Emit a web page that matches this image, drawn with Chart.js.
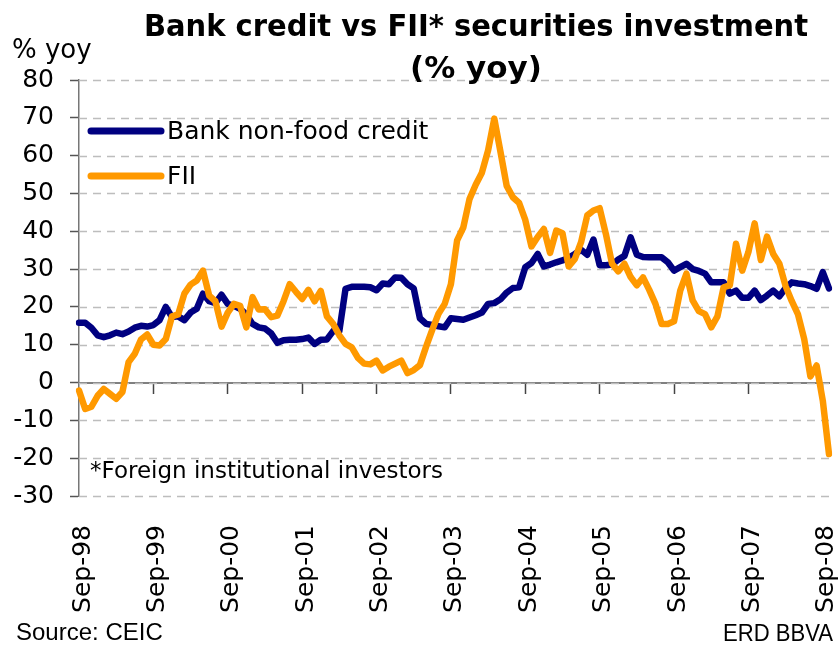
<!DOCTYPE html>
<html>
<head>
<meta charset="utf-8">
<title>Bank credit vs FII securities investment</title>
<script src="https://cdn.jsdelivr.net/npm/chart.js@4.4.1/dist/chart.umd.min.js"></script>
<style>
  html, body { margin: 0; padding: 0; background: #fff; }
  #wrap { width: 840px; height: 645px; }
</style>
</head>
<body>
<div id="wrap"><canvas id="credit_fii" width="840" height="645"></canvas></div>
<script>
// % yoy, monthly from Sep-98 to Oct-08
const bankCredit = [
  15.8, 15.8, 14.5, 12.5, 12.0, 12.5, 13.2, 12.8, 13.5, 14.5, 15.0, 14.8,
  15.2, 16.5, 20.0, 17.3, 17.5, 16.5, 18.5, 19.5, 23.5, 21.5, 21.0, 23.2,
  20.8, 20.3, 19.5, 18.0, 15.5, 14.6, 14.3, 13.0, 10.5, 11.2, 11.3, 11.3,
  11.5, 11.9, 10.2, 11.3, 11.4, 13.6, 13.6, 24.8, 25.3, 25.3, 25.3, 25.2,
  24.4, 26.2, 26.0, 27.8, 27.7, 26.0, 24.9, 17.0, 15.5, 15.2, 14.9, 14.6,
  17.0, 16.8, 16.6, 17.2, 17.8, 18.5, 20.8, 21.0, 22.0, 23.8, 25.0, 25.2,
  30.5, 31.6, 34.0, 30.7, 31.2, 31.8, 32.3, 33.0, 34.0, 35.1, 33.8, 37.8,
  31.0, 31.0, 31.2, 32.5, 33.5, 38.4, 33.8, 33.2, 33.1, 33.1, 33.1, 31.8,
  29.6, 30.5, 31.4, 30.0, 29.5, 28.8, 26.5, 26.5, 26.5, 23.5, 24.3, 22.4,
  22.4, 24.3, 21.8, 23.0, 24.3, 22.8, 25.0, 26.5, 26.2, 26.0, 25.5, 24.8,
  29.2, 24.9
];
const fiiInvestment = [
  -2.1, -7.0, -6.4, -3.5, -1.7, -3.0, -4.3, -2.5, 5.4, 7.6, 11.4, 12.7,
  10.0, 9.8, 11.5, 17.5, 18.0, 23.5, 25.9, 27.0, 29.6, 23.0, 21.5, 14.8,
  18.5, 20.8, 20.3, 14.6, 22.6, 19.3, 19.4, 17.3, 17.7, 21.5, 26.0, 24.0,
  22.1, 24.5, 21.5, 24.2, 17.5, 15.5, 12.5, 10.2, 9.3, 6.5, 5.0, 4.8,
  5.8, 3.2, 4.2, 5.0, 5.8, 2.5, 3.3, 4.6, 9.5, 14.0, 18.2, 20.8,
  26.0, 37.6, 41.0, 48.5, 52.3, 55.5, 61.4, 69.8, 61.0, 52.0, 49.0, 47.5,
  43.0, 36.0, 38.5, 40.6, 34.3, 40.2, 39.5, 30.7, 32.7, 37.1, 44.2, 45.5,
  46.1, 39.3, 31.4, 29.4, 31.4, 27.9, 25.7, 27.8, 24.5, 20.8, 15.5, 15.5,
  16.2, 24.3, 28.8, 21.7, 18.9, 18.1, 14.6, 17.5, 25.2, 25.7, 36.7, 29.6,
  34.5, 42.1, 32.4, 38.6, 34.0, 31.4, 25.5, 21.5, 18.0, 11.5, 1.6, 4.5,
  -4.8, -18.9
];
const seriesNames = ['Bank non-food credit', 'FII'];
const seriesColors = ['#000080', '#ff9900'];
const monthNames = ['Jan', 'Feb', 'Mar', 'Apr', 'May', 'Jun', 'Jul', 'Aug', 'Sep', 'Oct', 'Nov', 'Dec'];
const yTicks = { min: -30, max: 80, step: 10 };

// month labels Sep-98 .. Oct-08
const months = [];
for (let i = 0; i < bankCredit.length; i++) {
  const m = (8 + i) % 12;
  const yr = (1998 + Math.floor((8 + i) / 12)) % 100;
  months.push(monthNames[m] + '-' + String(yr).padStart(2, '0'));
}

const FONT = '"DejaVu Sans", Verdana, sans-serif';
const ARIAL = '"Liberation Sans", Arial, sans-serif';

// fits a single line of text to a given width by squeezing it horizontally
function fitText(ctx, text, x, y, maxW) {
  const w = ctx.measureText(text).width;
  const sx = w > maxW ? maxW / w : 1;
  ctx.save();
  ctx.translate(x, y);
  ctx.scale(sx, 1);
  ctx.fillText(text, 0, 0);
  ctx.restore();
}

// dashed horizontal grid, one line per y tick
const dashedGrid = {
  id: 'dashedGrid',
  beforeDatasetsDraw(chart) {
    const { ctx, chartArea, scales } = chart;
    ctx.save();
    ctx.strokeStyle = '#bdbdbd';
    ctx.lineWidth = 1.5;
    ctx.setLineDash([8, 6]);
    scales.y.ticks.forEach(t => {
      const y = Math.round(scales.y.getPixelForValue(t.value)) + 0.5;
      ctx.beginPath();
      ctx.moveTo(chartArea.left, y);
      ctx.lineTo(chartArea.right + 4, y);
      ctx.stroke();
    });
    ctx.restore();
  }
};

const annotations = {
  id: 'annotations',
  afterDraw(chart) {
    const { ctx, chartArea } = chart;
    ctx.save();
    ctx.fillStyle = '#000';

    // title
    ctx.font = 'bold 31px ' + FONT;
    ctx.textAlign = 'center';
    ctx.textBaseline = 'alphabetic';
    fitText(ctx, 'Bank credit vs FII* securities investment', 476, 36, 664);
    fitText(ctx, '(% yoy)', 476, 78, 140);

    // axis unit
    ctx.font = '26px ' + FONT;
    ctx.textAlign = 'left';
    ctx.fillText('% yoy', 12, 58);

    // legend inside the plot
    chart.data.datasets.forEach((ds, i) => {
      const y = chartArea.top + 51 + i * 45;
      ctx.strokeStyle = ds.borderColor;
      ctx.lineWidth = 7;
      ctx.lineCap = 'round';
      ctx.beginPath();
      ctx.moveTo(chartArea.left + 12, y);
      ctx.lineTo(chartArea.left + 82, y);
      ctx.stroke();
      ctx.font = '25px ' + FONT;
      ctx.textBaseline = 'middle';
      ctx.fillText(ds.label, chartArea.left + 88, y + 1);
    });

    // footnote
    ctx.textBaseline = 'alphabetic';
    ctx.font = '23px ' + FONT;
    ctx.fillText('*Foreign institutional investors', chartArea.left + 11, 478);

    // source lines
    ctx.font = '24px ' + ARIAL;
    fitText(ctx, 'Source: CEIC', 16, 640, 149);
    ctx.textAlign = 'right';
    fitText(ctx, 'ERD BBVA', 833, 641, 110);
    ctx.restore();
  }
};

const chart = new Chart(document.getElementById('credit_fii'), {
  type: 'line',
  data: {
    labels: months,
    datasets: [
      {
        label: seriesNames[0],
        data: bankCredit,
        borderColor: seriesColors[0],
        borderWidth: 6.5,
        order: 1
      },
      {
        label: seriesNames[1],
        data: fiiInvestment,
        borderColor: seriesColors[1],
        borderWidth: 6.5,
        order: 0          // orange sits on top where the lines cross
      }
    ]
  },
  options: {
    responsive: false,
    animation: false,
    layout: { padding: { top: 80, right: 11, bottom: 0, left: 0 } },
    elements: {
      point: { radius: 0, hoverRadius: 0 },
      line: { tension: 0, borderJoinStyle: 'round', borderCapStyle: 'round', fill: false }
    },
    scales: {
      y: {
        min: yTicks.min,
        max: yTicks.max,
        afterFit(scale) { scale.width = 79; },
        ticks: {
          stepSize: yTicks.step,
          color: '#000',
          padding: 16,
          font: { family: FONT, size: 25 }
        },
        grid: {
          drawOnChartArea: false,
          tickColor: '#555',
          tickLength: 9,
          tickWidth: 1.5
        },
        border: { display: true, color: '#777', width: 1.5 }
      },
      x: {
        afterFit(scale) {
          // keep the rotated labels from pulling the plot edges in
          scale.height = 149;
          scale.paddingLeft = 0;
          scale.paddingRight = 0;
        },
        grid: { display: false, drawTicks: false },
        border: { display: false },
        ticks: {
          autoSkip: false,
          minRotation: 90,
          maxRotation: 90,
          padding: 29,
          labelOffset: 4,
          color: '#000',
          font: { family: FONT, size: 25 },
          callback(value, index) {
            return index % 12 === 0 ? this.getLabelForValue(value) : '';
          }
        }
      },
      // the zero line carries the yearly tick marks
      xZero: {
        type: 'category',
        position: { y: 0 },
        ticks: { display: false, autoSkip: false },
        grid: {
          drawOnChartArea: false,
          drawTicks: true,
          tickLength: 10,
          tickWidth: 1.5,
          tickColor: (c) => (c.index % 12 === 0 && c.index > 0 ? '#444' : 'rgba(0,0,0,0)')
        },
        border: { display: true, color: '#808080', width: 2 }
      }
    },
    plugins: {
      legend: { display: false },
      tooltip: { enabled: false }
    }
  },
  plugins: [dashedGrid, annotations]
});
</script>
</body>
</html>
